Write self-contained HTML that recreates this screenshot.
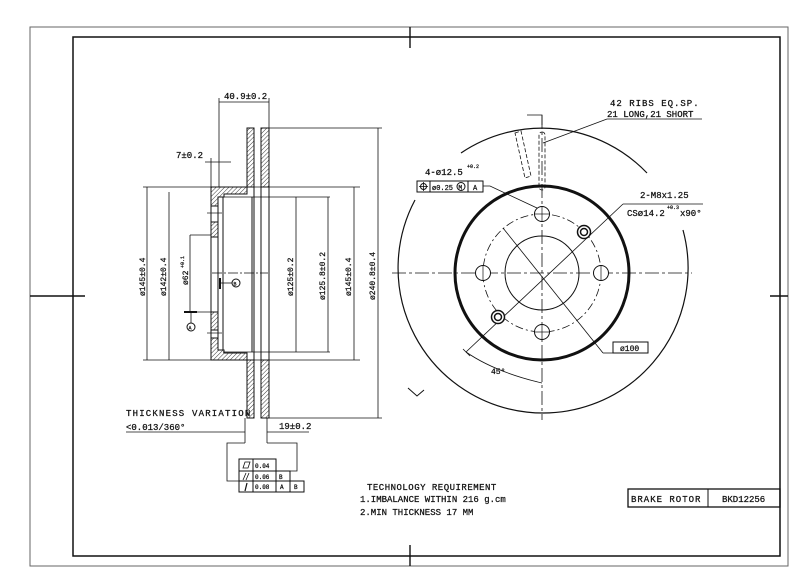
<!DOCTYPE html>
<html><head><meta charset="utf-8"><style>
html,body{margin:0;padding:0;background:#fff;}
svg{display:block;}
text{font-family:"Liberation Mono","DejaVu Sans Mono",monospace;fill:#111;stroke:#111;stroke-width:0.25;}
</style></head><body>
<svg width="800" height="582" viewBox="0 0 800 582" xmlns="http://www.w3.org/2000/svg">
<defs>
<pattern id="h" width="3" height="3" patternUnits="userSpaceOnUse" patternTransform="rotate(45)">
<line x1="0" y1="0" x2="0" y2="3" stroke="#222" stroke-width="0.9"/>
</pattern>
</defs>
<g fill="none" stroke="#111" stroke-width="1">
<rect x="30" y="27" width="758" height="539" stroke="#666"/>
<rect x="73" y="37" width="707" height="519" stroke-width="1.5"/>
<line x1="410" y1="27" x2="410" y2="48" stroke-width="1.4"/>
<line x1="410" y1="545" x2="410" y2="566" stroke-width="1.4"/>
<line x1="30" y1="296" x2="85" y2="296" stroke-width="1.4"/>
<line x1="770" y1="296" x2="788" y2="296" stroke-width="1.4"/>

<rect x="247" y="128" width="7" height="59" fill="url(#h)"/>
<rect x="261" y="128" width="8" height="59" fill="url(#h)"/>
<rect x="247" y="360" width="7" height="58" fill="url(#h)"/>
<rect x="261" y="360" width="8" height="58" fill="url(#h)"/>
<line x1="254" y1="187" x2="254" y2="360"/>
<line x1="261" y1="187" x2="261" y2="360"/>
<line x1="269" y1="187" x2="269" y2="360"/>
<line x1="252" y1="197" x2="252" y2="352"/>
<path d="M211 187 H247 V194 H224 V197 H218 V206 H211 Z" fill="url(#h)"/>
<path d="M211 360 H247 V353 H224 V350 H218 V338 H211 Z" fill="url(#h)"/>
<rect x="211" y="222" width="7" height="15" fill="url(#h)"/>
<rect x="211" y="312" width="7" height="18" fill="url(#h)"/>
<line x1="211" y1="206" x2="211" y2="338"/>
<line x1="218" y1="206" x2="218" y2="338"/>
<line x1="223" y1="197" x2="223" y2="350"/>
<line x1="223" y1="197" x2="330" y2="197" stroke-width="0.8"/>
<line x1="223" y1="352" x2="330" y2="352" stroke-width="0.8"/>
<line x1="207" y1="213" x2="222" y2="213" stroke-width="0.7"/>
<line x1="207" y1="333" x2="222" y2="333" stroke-width="0.7"/>
<line x1="212" y1="273" x2="268" y2="273" stroke-dasharray="10 2 2 2" stroke-width="0.7"/>
<line x1="143" y1="187" x2="360" y2="187" stroke-width="0.8"/>
<line x1="143" y1="360" x2="360" y2="360" stroke-width="0.8"/>
<line x1="269" y1="128" x2="382" y2="128" stroke-width="0.8"/>
<line x1="269" y1="418" x2="382" y2="418" stroke-width="0.8"/>
<line x1="190" y1="235" x2="211" y2="235" stroke-width="0.8"/>
<line x1="185" y1="312" x2="213" y2="312" stroke-width="0.8"/>
<line x1="219" y1="98" x2="219" y2="187" stroke-width="0.8"/>
<line x1="269" y1="98" x2="269" y2="128" stroke-width="0.8"/>
<line x1="211" y1="158" x2="211" y2="187" stroke-width="0.8"/>
<line x1="219" y1="102" x2="269" y2="102" stroke-width="0.8"/>
<line x1="205" y1="162" x2="231" y2="162" stroke-width="0.8"/>
<line x1="147" y1="187" x2="147" y2="360" stroke-width="0.8"/>
<line x1="169" y1="192" x2="169" y2="360" stroke-width="0.8"/>
<line x1="190" y1="235" x2="190" y2="312" stroke-width="0.8"/>
<line x1="296" y1="197" x2="296" y2="352" stroke-width="0.8"/>
<line x1="328" y1="197" x2="328" y2="352" stroke-width="0.8"/>
<line x1="354" y1="187" x2="354" y2="360" stroke-width="0.8"/>
<line x1="378" y1="128" x2="378" y2="418" stroke-width="0.8"/>
<line x1="220" y1="278" x2="220" y2="289" stroke-width="2"/>
<line x1="220" y1="283" x2="232" y2="283" stroke-width="0.8"/>
<circle cx="236" cy="283" r="4"/>
<line x1="184" y1="312" x2="197" y2="312" stroke-width="2"/>
<line x1="191" y1="312" x2="191" y2="323" stroke-width="0.8"/>
<circle cx="191" cy="327" r="4"/>
<line x1="126" y1="432" x2="245" y2="432" stroke-width="0.8"/>
<line x1="267" y1="432" x2="309" y2="432" stroke-width="0.8"/>
<line x1="245" y1="418" x2="245" y2="443" stroke-width="0.8"/>
<line x1="267" y1="418" x2="267" y2="443" stroke-width="0.8"/>
<path d="M245 443 H227 V481 H239" stroke-width="0.8"/>
<path d="M267 443 H297 V471 H290" stroke-width="0.8"/>
<rect x="239" y="459" width="37" height="12"/>
<rect x="239" y="471" width="51" height="10"/>
<rect x="239" y="481" width="65" height="11"/>
<line x1="253" y1="459" x2="253" y2="492"/>
<line x1="276" y1="471" x2="276" y2="492"/>
<line x1="290" y1="481" x2="290" y2="492"/>
<path d="M243 468 L245 462 H250 L248 468 Z" stroke-width="0.8"/>
<line x1="243" y1="480" x2="246" y2="473" stroke-width="0.8"/>
<line x1="246" y1="480" x2="249" y2="473" stroke-width="0.8"/>
<line x1="245" y1="491" x2="247" y2="483" stroke-width="1.2"/>

<g stroke-width="1.2">
<path d="M461 153 A145 145 0 0 1 647 173"/>
<path d="M415 200 A145 145 0 1 0 683 230"/>
</g>
<circle cx="542" cy="273" r="87" stroke-width="3"/>
<circle cx="542" cy="273" r="59" stroke-dasharray="8 3 2 3" stroke-width="0.8"/>
<circle cx="542" cy="273" r="37"/>
<line x1="392" y1="273" x2="692" y2="273" stroke-dasharray="14 3 3 3" stroke-width="0.8"/>
<line x1="542" y1="115" x2="542" y2="420" stroke-dasharray="14 3 3 3" stroke-width="0.8"/>
<circle cx="542" cy="214" r="7.5" fill="#fff"/><line x1="534" y1="214" x2="550" y2="214" stroke-width="0.7"/><line x1="542" y1="206" x2="542" y2="222" stroke-width="0.7"/>
<circle cx="542" cy="332" r="7.5" fill="#fff"/><line x1="534" y1="332" x2="550" y2="332" stroke-width="0.7"/><line x1="542" y1="324" x2="542" y2="340" stroke-width="0.7"/>
<circle cx="483" cy="273" r="7.5" fill="#fff"/><line x1="483" y1="265" x2="483" y2="281" stroke-width="0.7"/>
<circle cx="601" cy="273" r="7.5" fill="#fff"/><line x1="601" y1="265" x2="601" y2="281" stroke-width="0.7"/>
<line x1="466" y1="352" x2="623" y2="204" stroke-width="0.8"/>
<line x1="503" y1="228" x2="603" y2="353" stroke-width="0.8"/>
<circle cx="584" cy="232" r="6.5" stroke-width="1.5" fill="#fff"/><circle cx="584" cy="232" r="3.5" stroke-width="1.5"/>
<circle cx="498" cy="317" r="6.5" stroke-width="1.5" fill="#fff"/><circle cx="498" cy="317" r="3.5" stroke-width="1.5"/>
<line x1="463" y1="349" x2="470" y2="356" stroke-width="0.8"/>
<path d="M466 352 Q495 372 542 383" stroke-width="0.8"/>
<path d="M408 388 L417 396 L424 390"/>
<rect x="539" y="132" width="6" height="58" rx="3" stroke-dasharray="4 2" stroke-width="0.8"/>
<path d="M515 133 L521 131 L531 176 L525 178 Z" stroke-dasharray="4 2" stroke-width="0.8"/>
<path d="M527 115 H542 V125" stroke-width="0.8"/>
<line x1="607" y1="119" x2="702" y2="119" stroke-width="0.8"/>
<line x1="607" y1="119" x2="543" y2="143" stroke-width="0.8"/>
<rect x="417" y="181" width="66" height="11"/>
<line x1="430" y1="181" x2="430" y2="192"/><line x1="468" y1="181" x2="468" y2="192"/>
<circle cx="423.5" cy="186.5" r="3"/><line x1="419" y1="186.5" x2="428" y2="186.5" stroke-width="0.8"/><line x1="423.5" y1="182" x2="423.5" y2="191" stroke-width="0.8"/>
<circle cx="461" cy="186.5" r="4"/>
<path d="M483 186 H490 L537 208" stroke-width="0.8"/>
<line x1="623" y1="204" x2="703" y2="204" stroke-width="0.8"/>
<rect x="613" y="342" width="35" height="11"/>
<line x1="603" y1="353" x2="613" y2="353" stroke-width="0.8"/>
<rect x="628" y="489" width="152" height="18" stroke-width="1.3"/>
<line x1="708" y1="489" x2="708" y2="507"/>
</g>

<g font-size="9">
<text x="224" y="99">40.9±0.2</text>
<text x="176" y="158">7±0.2</text>
<text x="126" y="416" letter-spacing="1.2">THICKNESS VARIATION</text>
<text x="126" y="430">&lt;0.013/360°</text>
<text x="279" y="429">19±0.2</text>
<g font-size="8">
<text transform="translate(145,296) rotate(-90)">ø145±0.4</text>
<text transform="translate(166,296) rotate(-90)">ø142±0.4</text>
<text transform="translate(188,285) rotate(-90)">ø62</text>
<text transform="translate(293,296) rotate(-90)">ø125±0.2</text>
<text transform="translate(325,300) rotate(-90)">ø125.8±0.2</text>
<text transform="translate(351,296) rotate(-90)">ø145±0.4</text>
<text transform="translate(375,300) rotate(-90)">ø240.8±0.4</text>
</g>
<text font-size="5" x="180" y="268" transform="rotate(-90 182 266)">+0.1</text>
<text x="233.5" y="285.5" font-size="5">B</text>
<text x="188.5" y="329.5" font-size="5">A</text>
<text x="255" y="468" font-size="6">0.04</text>
<text x="255" y="479" font-size="6">0.06</text>
<text x="279" y="479" font-size="6">B</text>
<text x="255" y="489" font-size="6">0.08</text>
<text x="280" y="489" font-size="6">A</text>
<text x="294" y="489" font-size="6">B</text>
<text x="367" y="490" letter-spacing="0.5">TECHNOLOGY REQUIREMENT</text>
<text x="360" y="502">1.IMBALANCE WITHIN 216 g.cm</text>
<text x="360" y="515">2.MIN THICKNESS 17 MM</text>
<text x="631" y="502" letter-spacing="1">BRAKE ROTOR</text>
<text x="722" y="502">BKD12256</text>
<text x="610" y="106" letter-spacing="1">42 RIBS EQ.SP.</text>
<text x="607" y="117">21 LONG,21 SHORT</text>
<text x="425" y="175">4-ø12.5</text>
<text x="467" y="168" font-size="5">+0.2</text>
<text x="432" y="190" font-size="7">ø0.25</text>
<text x="458.5" y="189.5" font-size="6">M</text>
<text x="473" y="190" font-size="7">A</text>
<text x="640" y="198">2-M8x1.25</text>
<text x="627" y="216">CSø14.2</text>
<text x="667" y="209" font-size="5">+0.3</text>
<text x="680" y="216">x90°</text>
<text x="620" y="351" font-size="8">ø100</text>
<text x="491" y="374" font-size="8">45°</text>
</g>
</svg>
</body></html>
